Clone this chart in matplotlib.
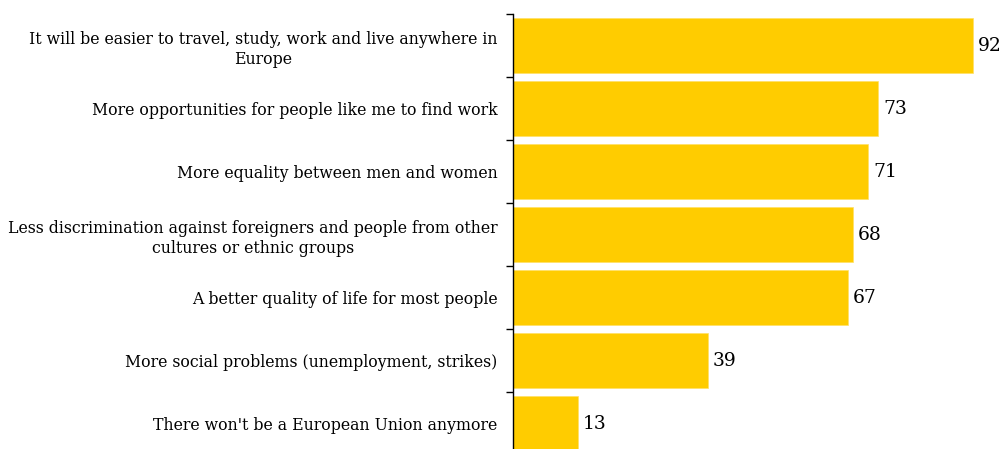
import matplotlib.pyplot as plt
import numpy as np

# survey answers, top to bottom
labels = [
    "It will be easier to travel, study, work and live anywhere in\nEurope",
    "More opportunities for people like me to find work",
    "More equality between men and women",
    "Less discrimination against foreigners and people from other\ncultures or ethnic groups",
    "A better quality of life for most people",
    "More social problems (unemployment, strikes)",
    "There won't be a European Union anymore",
]
values = [92, 73, 71, 68, 67, 39, 13]

fig = plt.figure(figsize=(10.04, 4.49), dpi=100)
# axes runs a bit past the bottom edge, like the reference crop
ax = fig.add_axes([513 / 1004, -6 / 449, 491 / 1004, 441 / 449])

y = np.arange(len(values))
bars = ax.barh(y, values, height=0.86, color='#FFCC00', edgecolor='#FFE066', linewidth=0.5)

for yi, v in zip(y, values):
    ax.text(v + 1, yi, str(v), va='center', ha='left', fontsize=13.5, family='DejaVu Serif')

ax.set_ylim(len(values) - 0.5, -0.5)
ax.set_xlim(0, 98.2)

ax.set_yticks(y)
ax.set_yticklabels(labels, fontsize=11.3, family='DejaVu Serif', multialignment='center',
                   linespacing=1.3)
ax.tick_params(axis='y', length=0, pad=11)
# boundary ticks between categories
ax.set_yticks(np.arange(len(values) + 1) - 0.5, minor=True)
ax.tick_params(axis='y', which='minor', length=5, width=1)

ax.set_xticks([])
for s in ['top', 'right', 'bottom']:
    ax.spines[s].set_visible(False)
ax.spines['left'].set_linewidth(1)

fig.savefig('out.png', dpi=100)
